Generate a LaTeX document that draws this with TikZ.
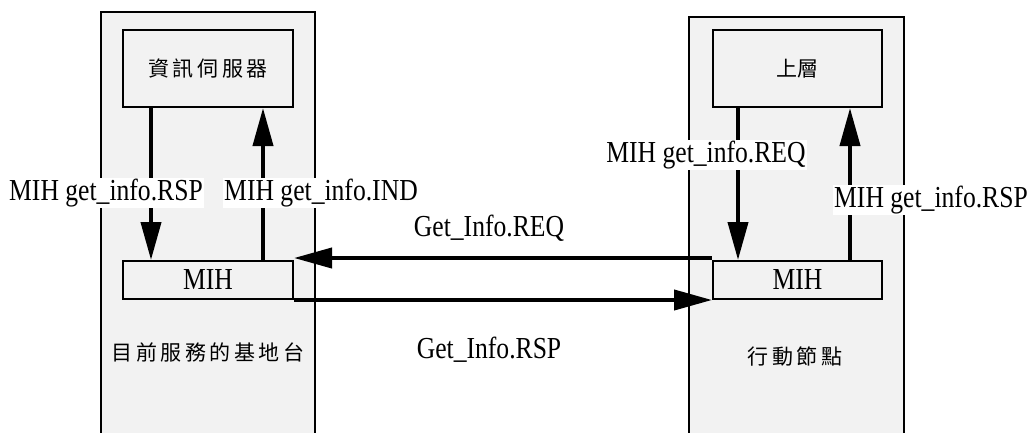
\documentclass[tikz,border=0pt]{standalone}
\usepackage{fontspec}
\setmainfont[FakeStretch=0.84]{Liberation Serif}
\newfontfamily\cjk{Noto Sans CJK TC}
\usetikzlibrary{arrows.meta}
\definecolor{panel}{HTML}{F2F2F2}
\tikzset{
  outer/.style={draw, line width=2pt, fill=panel},
  inbox/.style={draw, line width=2pt, fill=panel, inner sep=0pt},
  arr/.style={line width=4pt, -{Triangle[length=38pt,width=20pt]}},
  lab/.style={fill=white, inner sep=1pt, font=\fontsize{30.5}{34}\selectfont},
  mlab/.style={inner sep=1pt, font=\fontsize{30.5}{34}\selectfont},
  cj/.style={font=\cjk\fontsize{21}{24}\selectfont},
}
\begin{document}
\begin{tikzpicture}[x=1pt,y=-1pt]
\useasboundingbox (0,0) rectangle (1027,432);
\clip (0,0) rectangle (1027,432);
\fill[white] (0,0) rectangle (1027,432);
% outer panels
\node[outer, minimum width=214pt, minimum height=440pt, anchor=north west] (bs) at (100,11) {};
\node[outer, minimum width=215pt, minimum height=440pt, anchor=north west] (mn) at (688,16) {};
% inner boxes
\node[inbox, minimum width=170pt, minimum height=77pt, anchor=north west, cj] (srv) at (122,29) {資\,訊\,伺\,服\,器};
\node[inbox, minimum width=170pt, minimum height=38pt, anchor=north west, mlab] (mihL) at (122,260) {MIH};
\node[inbox, minimum width=169pt, minimum height=77pt, anchor=north west, cj] (up) at (712,29) {上層};
\node[inbox, minimum width=169pt, minimum height=38pt, anchor=north west, mlab] (mihR) at (712,260) {MIH};
% panel captions
\node[cj] (bsname) at (208,352) {目\,前\,服\,務\,的\,基\,地\,台};
\node[cj] (mnname) at (795,357) {行\,動\,節\,點};
% vertical arrows
\coordinate (a1) at (151,0);
\coordinate (a2) at (263,0);
\coordinate (a3) at (738,0);
\coordinate (a4) at (850,0);
\draw[arr] (srv.south -| a1) -- (mihL.north -| a1);
\draw[arr] (mihL.north -| a2) -- (srv.south -| a2);
\draw[arr] (up.south -| a3) -- (mihR.north -| a3);
\draw[arr] (mihR.north -| a4) -- (up.south -| a4);
% horizontal arrows
\draw[arr] ([yshift=2pt]mihR.north west) -- ([yshift=2pt]mihL.north east);
\draw[arr] (mihL.south east) -- (mihR.south west);
% labels
\node[lab] (l1) at (106,193) {MIH get\_info.RSP};
\node[lab] (l2) at (321,193) {MIH get\_info.IND};
\node[lab] (l3) at (706,155) {MIH get\_info.REQ};
\node[lab] (l4) at (931,200) {MIH get\_info.RSP};
\node[mlab] (l5) at (489,228) {Get\_Info.REQ};
\node[mlab] (l6) at (489,350) {Get\_Info.RSP};
\end{tikzpicture}
\end{document}
